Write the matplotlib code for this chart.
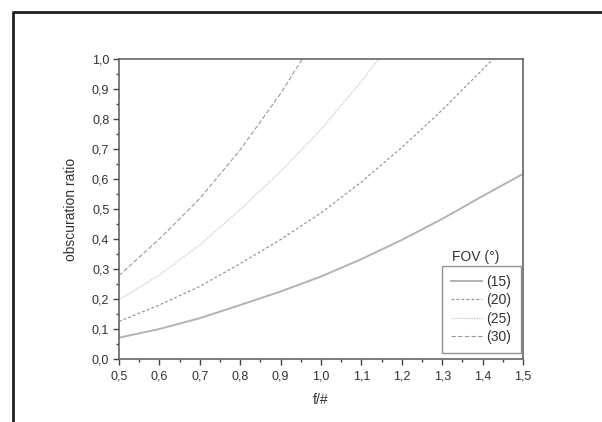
import matplotlib
matplotlib.use("Agg")
import matplotlib.pyplot as plt
from matplotlib.ticker import MultipleLocator, FuncFormatter
from matplotlib.lines import Line2D

plt.rcParams['font.family'] = ['Liberation Sans', 'DejaVu Sans']

# f/# values and obscuration ratio per FOV
fnum = [0.5, 0.6, 0.7, 0.8, 0.9, 1.0, 1.1, 1.2, 1.3, 1.4, 1.5]
fov15 = [0.071, 0.100, 0.136, 0.180, 0.225, 0.275, 0.333, 0.397, 0.467, 0.543, 0.617]
fov20 = [0.125, 0.180, 0.242, 0.318, 0.398, 0.487, 0.590, 0.705, 0.830, 0.965, 1.100]
fov25 = [0.197, 0.280, 0.380, 0.498, 0.625, 0.765, 0.925, 1.100]
fov30 = [0.278, 0.400, 0.535, 0.697, 0.885, 1.100]
labels = ["(15)", "(20)", "(25)", "(30)"]

fig = plt.figure(figsize=(6.02, 4.22), dpi=100)
# outer frame lines (left and top)
fig.add_artist(Line2D([13/602, 13/602], [0, 1 - 12/422], transform=fig.transFigure,
                      color='#231f20', lw=2, solid_capstyle='butt'))
fig.add_artist(Line2D([12/602, 1], [1 - 12/422, 1 - 12/422], transform=fig.transFigure,
                      color='#231f20', lw=2, solid_capstyle='butt'))

ax = fig.add_axes([119/602, 1 - 359/422, 404/602, 300/422])

l1, = ax.plot(fnum, fov15, color='#b3b3b3', lw=1.4, ls='-')
l2, = ax.plot(fnum[:len(fov20)], fov20, color='#8c8c8c', lw=0.8, ls=(0, (2.5, 2)))
l3, = ax.plot(fnum[:len(fov25)], fov25, color='#c6c6c6', lw=0.9, ls=(0, (1, 1)))
l4, = ax.plot(fnum[:len(fov30)], fov30, color='#9a9a9a', lw=0.8, ls=(0, (4, 2)))

ax.set_xlim(0.5, 1.5)
ax.set_ylim(0.0, 1.0)
ax.xaxis.set_major_locator(MultipleLocator(0.1))
ax.xaxis.set_minor_locator(MultipleLocator(0.05))
ax.yaxis.set_major_locator(MultipleLocator(0.1))
ax.yaxis.set_minor_locator(MultipleLocator(0.05))
fmt = FuncFormatter(lambda v, p: f"{v:.1f}".replace('.', ','))
ax.xaxis.set_major_formatter(fmt)
ax.yaxis.set_major_formatter(fmt)

for s in ax.spines.values():
    s.set_color('#666666')
    s.set_linewidth(1.2)
ax.tick_params(which='major', direction='out', length=4.5, width=1, color='#444444',
               labelsize=9, labelcolor='#333333', pad=2.5)
ax.tick_params(axis='x', which='major', pad=4)
ax.tick_params(which='minor', direction='out', length=2.2, width=1, color='#444444')
ax.tick_params(top=False, right=False)

ax.set_xlabel("f/#", fontsize=10, color='#333333', labelpad=7)
ax.set_ylabel("obscuration ratio", fontsize=10, color='#333333', labelpad=10)

leg = ax.legend([l1, l2, l3, l4], labels, loc='lower right',
                bbox_to_anchor=(0.994, 0.02), fontsize=10, frameon=True,
                fancybox=False, edgecolor='#777777', handlelength=2.2,
                handletextpad=0.35, labelspacing=0.32, borderpad=0.65,
                borderaxespad=0)
leg.get_frame().set_linewidth(1.0)
for t in leg.get_texts():
    t.set_color('#333333')
ax.text(0.884, 0.34, "FOV (°)", transform=ax.transAxes, ha='center', va='center',
        fontsize=10, color='#333333')

fig.savefig("out.png", dpi=100)
